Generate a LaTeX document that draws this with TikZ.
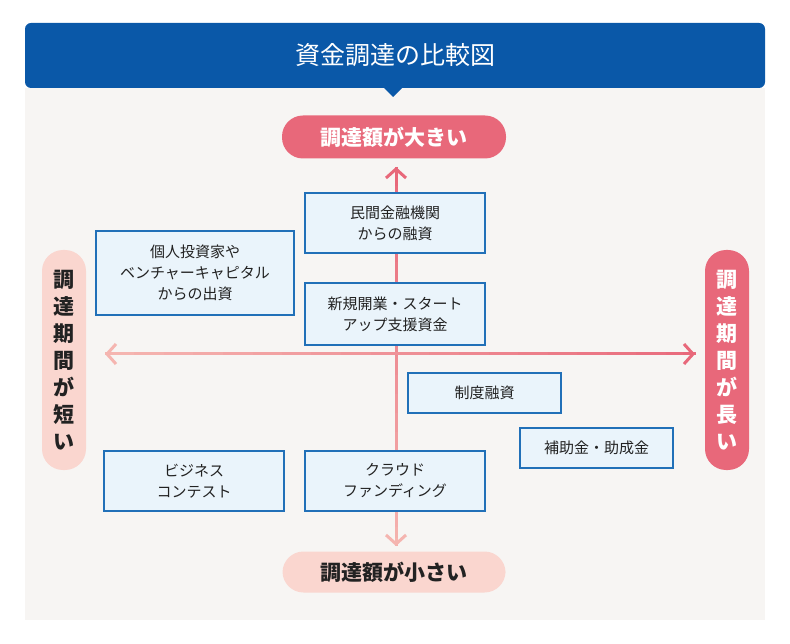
\documentclass[tikz,border=0pt]{standalone}
\usepackage{fontspec}
\setmainfont{Noto Sans CJK JP}
\usetikzlibrary{arrows.meta,calc}
\definecolor{hdblue}{HTML}{0A58A8}
\definecolor{panel}{HTML}{F7F5F3}
\definecolor{pinkD}{HTML}{E8687A}
\definecolor{pinkL}{HTML}{FAD6CF}
\definecolor{pinkA}{HTML}{F5B5B0}
\definecolor{boxfill}{HTML}{EAF4FB}
\definecolor{boxline}{HTML}{2170B8}
\definecolor{txt}{HTML}{222222}
\tikzset{box/.style={draw=boxline,line width=1.2pt,fill=boxfill,align=center,font=\fontsize{15}{21}\selectfont,text=txt,inner sep=0pt}}
\tikzset{pill/.style={rounded corners=21pt,inner sep=0pt,font=\fontsize{21}{26}\selectfont\bfseries,align=center}}
\tikzset{vpill/.style={rounded corners=21pt,inner sep=0pt,font=\fontsize{21}{27}\selectfont\bfseries,align=center}}
\begin{document}
\begin{tikzpicture}[x=1pt,y=-1pt]
\useasboundingbox (0,0) rectangle (790,644);
\fill[white] (0,0) rectangle (790,644);

%%% Frame:
\fill[panel] (25,88) rectangle (765,620);
\fill[hdblue,rounded corners=6pt] (25,88) -- (25,23) -- (765,23) -- (765,88) -- cycle;
\fill[hdblue] (383,87) -- (403,87) -- (393,97) -- cycle;
\node[text=white,font=\fontsize{25}{30}\selectfont] (title) at (395,55) {資金調達の比較図};

%%% Axes:
\coordinate (top) at (396,167);
\coordinate (bot) at (396,546);
\coordinate (lft) at (105,354);
\coordinate (rgt) at (695,354);
\foreach \i in {0,...,19}{
  \pgfmathsetmacro{\p}{100-\i*5}
  \draw[line width=3pt,pinkD!\p!pinkA] ($(top)!\i/20!(bot)$) -- ($(top)!\i/20+0.051!(bot)$);
  \draw[line width=3pt,pinkA!\p!pinkD] ($(lft)!\i/20!(rgt)$) -- ($(lft)!\i/20+0.051!(rgt)$);
}
\draw[-{Straight Barb[length=9pt,width=20pt]},line width=3pt,pinkD] ($(top)!0.02!(bot)$) -- (top);
\draw[-{Straight Barb[length=9pt,width=20pt]},line width=3pt,pinkA] ($(bot)!0.02!(top)$) -- (bot);
\draw[-{Straight Barb[length=9pt,width=20pt]},line width=3pt,pinkA] ($(lft)!0.02!(rgt)$) -- (lft);
\draw[-{Straight Barb[length=9pt,width=20pt]},line width=3pt,pinkD] ($(rgt)!0.02!(lft)$) -- (rgt);

%%% Pills:
\node[pill,fill=pinkD,text=white,minimum width=224pt,minimum height=43pt] (big) at (394,137) {調達額が大きい};
\node[pill,fill=pinkL,text=txt,minimum width=223pt,minimum height=41pt] (small) at (394,572) {調達額が小さい};
\node[vpill,fill=pinkL,text=txt,minimum width=44pt,minimum height=220pt] (short) at (64,360) {調\\達\\期\\間\\が\\短\\い};
\node[vpill,fill=pinkD,text=white,minimum width=44pt,minimum height=220pt] (long) at (727,360) {調\\達\\期\\間\\が\\長\\い};

%%% Boxes:
\node[box,minimum width=180pt,minimum height=60pt] (bank) at (395,223) {民間金融機関\\からの融資};
\node[box,minimum width=198pt,minimum height=84pt] (vc) at (195,273) {個人投資家や\\ベンチャーキャピタル\\からの出資};
\node[box,minimum width=180pt,minimum height=62pt] (startup) at (395,314) {新規開業・スタート\\アップ支援資金};
\node[box,minimum width=153pt,minimum height=40pt] (seido) at (484.5,393) {制度融資};
\node[box,minimum width=153pt,minimum height=40pt] (hojo) at (596.5,448) {補助金・助成金};
\node[box,minimum width=180pt,minimum height=60pt] (contest) at (194,481) {ビジネス\\コンテスト};
\node[box,minimum width=180pt,minimum height=60pt] (crowd) at (395,481) {クラウド\\ファンディング};
\end{tikzpicture}
\end{document}
